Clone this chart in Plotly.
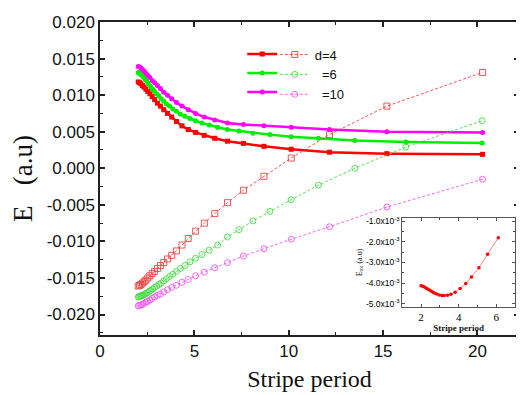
import plotly.graph_objects as go

# ---------------- data ----------------
# stripe periods used for d=4 and d=10 series
x_a = [2.027, 2.097, 2.171, 2.252, 2.338, 2.432, 2.533, 2.643, 2.764, 2.895,
       3.04, 3.2, 3.378, 3.576, 3.8, 4.053, 4.343, 4.677, 5.067, 5.527,
       6.08, 6.756, 7.6, 8.686, 10.133, 12.16, 15.2, 20.27]
# stripe periods used for d=6 series
x_b = [2.025, 2.077, 2.132, 2.189, 2.25, 2.314, 2.382, 2.455, 2.531, 2.613,
       2.7, 2.793, 2.893, 3.0, 3.115, 3.24, 3.375, 3.522, 3.682, 3.857,
       4.05, 4.263, 4.5, 4.765, 5.063, 5.4, 5.786, 6.231, 6.75, 7.364,
       8.1, 9.0, 10.125, 11.571, 13.5, 16.2, 20.25]

d4_solid = [0.0118, 0.0117, 0.01155, 0.0113, 0.0111, 0.0108, 0.0105, 0.0102, 0.0098, 0.0094,
            0.0089, 0.0085, 0.0080, 0.0075, 0.0070, 0.0064, 0.0058, 0.0053, 0.0049, 0.0045,
            0.0041, 0.0037, 0.0034, 0.0030, 0.0026, 0.0022, 0.0020, 0.0019]
d4_dash = [-0.0161, -0.0160, -0.0159, -0.0157, -0.0155, -0.0153, -0.0150, -0.0147, -0.0144, -0.0141,
           -0.0137, -0.0133, -0.0129, -0.0124, -0.0119, -0.0113, -0.0105, -0.0096, -0.0086, -0.0075,
           -0.0062, -0.0047, -0.0030, -0.0011, 0.0014, 0.0046, 0.0085, 0.0131]
d10_solid = [0.0139, 0.01385, 0.0137, 0.0135, 0.0133, 0.0130, 0.0127, 0.0124, 0.0120, 0.0117,
             0.0113, 0.0109, 0.0104, 0.0100, 0.0095, 0.0090, 0.0085, 0.0080, 0.0075, 0.0070,
             0.0066, 0.0062, 0.0060, 0.0058, 0.0056, 0.0053, 0.0050, 0.0049]
d10_dash = [-0.0188, -0.01875, -0.0187, -0.0186, -0.0185, -0.0183, -0.0182, -0.0180, -0.0178, -0.0176,
            -0.0174, -0.0172, -0.0169, -0.0166, -0.0163, -0.0160, -0.0156, -0.0152, -0.0147, -0.0142,
            -0.0136, -0.0129, -0.0120, -0.0110, -0.0097, -0.0080, -0.0053, -0.0015]
d6_solid = [0.0131, 0.01305, 0.0129, 0.0128, 0.0126, 0.0124, 0.0122, 0.0120, 0.0117, 0.0114,
            0.0111, 0.0108, 0.0105, 0.0102, 0.0099, 0.0095, 0.0092, 0.0088, 0.0085, 0.0081,
            0.0078, 0.0074, 0.0071, 0.0068, 0.0065, 0.0062, 0.0059, 0.0056, 0.0053, 0.0051,
            0.0048, 0.0046, 0.0043, 0.0041, 0.0038, 0.0036, 0.00345]
d6_dash = [-0.0176, -0.01755, -0.0175, -0.01745, -0.0174, -0.0173, -0.0172, -0.0171, -0.0170, -0.0168,
           -0.0167, -0.0165, -0.0163, -0.0161, -0.0159, -0.0157, -0.0154, -0.0151, -0.0148, -0.0145,
           -0.0141, -0.0137, -0.0133, -0.0128, -0.0123, -0.0118, -0.0112, -0.0105, -0.0094, -0.0084,
           -0.0072, -0.0059, -0.0043, -0.0023, 0.0000, 0.0029, 0.0065]

# inset: total energy vs stripe period
inset_x = [2.0, 2.09, 2.18, 2.26, 2.35, 2.44, 2.53, 2.62, 2.70, 2.83, 2.97, 3.11,
           3.23, 3.41, 3.59, 3.81, 4.08, 4.38, 4.68, 5.08, 5.54, 6.11]
inset_y = [-4.12e-3, -4.15e-3, -4.18e-3, -4.23e-3, -4.28e-3, -4.33e-3, -4.38e-3, -4.42e-3,
           -4.47e-3, -4.52e-3, -4.57e-3, -4.60e-3, -4.60e-3, -4.58e-3, -4.53e-3, -4.44e-3,
           -4.26e-3, -4.02e-3, -3.70e-3, -3.25e-3, -2.60e-3, -1.80e-3]

legend_names = ["d=4", "\u00a0\u00a0=6", "\u00a0\u00a0=10"]
y_tickvals = [-0.020, -0.015, -0.010, -0.005, 0.0, 0.005, 0.010, 0.015, 0.020]
y_ticktext = ["-0.020", "-0.015", "-0.010", "-0.005", "0.000", "0.005", "0.010", "0.015", "0.020"]
x_tickvals = [0, 5, 10, 15, 20]
inset_yvals = [-5e-3, -4e-3, -3e-3, -2e-3, -1e-3]
inset_ytext = ["-5.0x10<sup>-3</sup>", "-4.0x10<sup>-3</sup>", "-3.0x10<sup>-3</sup>",
               "-2.0x10<sup>-3</sup>", "-1.0x10<sup>-3</sup>"]

RED, GREEN, MAG = "#ff0000", "#00ee00", "#ff00ff"
RED_L, GREEN_L, MAG_L = "rgba(235,60,60,0.85)", "rgba(60,220,60,0.85)", "rgba(240,80,240,0.85)"

fig = go.Figure()

series = [
    (x_a, d4_solid, d4_dash, RED, RED_L, "square", "square-open", legend_names[0]),
    (x_b, d6_solid, d6_dash, GREEN, GREEN_L, "circle", "circle-open", legend_names[1]),
    (x_a, d10_solid, d10_dash, MAG, MAG_L, "circle", "circle-open", legend_names[2]),
]
for xs, ys, yd, c, cl, ms, mo, nm in series:
    fig.add_trace(go.Scatter(x=xs, y=ys, mode="lines+markers", name="",
                             line=dict(color=c, width=2.5),
                             marker=dict(symbol=ms, size=5, color=c),
                             legend="legend"))
for xs, ys, yd, c, cl, ms, mo, nm in series:
    fig.add_trace(go.Scatter(x=xs, y=yd, mode="lines+markers", name=nm,
                             line=dict(color=cl, width=1, dash="3px,2px"),
                             marker=dict(symbol=mo, size=6, color=cl, line=dict(width=1)),
                             legend="legend2"))

fig.add_trace(go.Scatter(x=inset_x, y=inset_y, mode="lines+markers", xaxis="x2", yaxis="y2",
                         line=dict(color="rgba(255,60,60,0.8)", width=0.8),
                         marker=dict(size=3.5, color=RED), showlegend=False))

axis_common = dict(showline=True, linecolor="#222", linewidth=1.5, mirror="ticks",
                   ticks="inside", ticklen=5, tickwidth=1.5, tickcolor="#222",
                   showgrid=False, zeroline=False)

SERIF = "Liberation Serif, Times New Roman, serif"
SANS = "Liberation Sans, Arial, sans-serif"

fig.update_layout(
    width=516, height=387,
    margin=dict(l=92, r=3, t=14, b=60),
    paper_bgcolor="white", plot_bgcolor="white",
    font=dict(family=SANS, color="#111"),
    xaxis=dict(range=[0, 22.2], tickvals=x_tickvals, tickfont=dict(size=17),
               minor=dict(dtick=2.5, ticks="inside", ticklen=3, tickcolor="#222", tickwidth=1.2),
               title=dict(text="Stripe period", font=dict(family=SERIF, size=24), standoff=10),
               **axis_common),
    yaxis=dict(range=[-0.0228, 0.020], tickvals=y_tickvals, ticktext=y_ticktext, tickfont=dict(size=17),
               minor=dict(dtick=0.0025, ticks="inside", ticklen=3, tickcolor="#222", tickwidth=1.2),
               title=dict(text="E\u00a0\u00a0\u00a0(a.u)", font=dict(family=SERIF, size=27), standoff=9),
               **axis_common),
    xaxis2=dict(domain=[0.7214, 0.9905], anchor="y2", range=[1, 7], tickvals=[2, 4, 6],
                tickfont=dict(family=SERIF, size=11, color="#000"),
                minor=dict(dtick=1, ticks="inside", ticklen=2, tickcolor="#444"),
                title=dict(text="<b>Stripe period</b>", font=dict(family=SERIF, size=9), standoff=0),
                showline=True, linecolor="#555", linewidth=1, mirror="ticks", ticks="inside",
                ticklen=3, tickcolor="#555", showgrid=False, zeroline=False),
    yaxis2=dict(domain=[0.0895, 0.3738], anchor="x2", range=[-5.15e-3, -0.85e-3],
                tickvals=inset_yvals, ticktext=inset_ytext,
                tickfont=dict(family=SANS, size=8.5, color="#000"),
                minor=dict(tickvals=[-4.5e-3, -3.5e-3, -2.5e-3, -1.5e-3], ticks="inside", ticklen=2, tickcolor="#444"),
                title=dict(text="E<sub>tot</sub> (a.u)", font=dict(family=SERIF, size=8), standoff=2),
                showline=True, linecolor="#555", linewidth=1, mirror="ticks", ticks="inside",
                ticklen=3, tickcolor="#555", showgrid=False, zeroline=False),
    legend=dict(x=0.3395, y=0.944, xanchor="left", yanchor="top", bgcolor="rgba(0,0,0,0)",
                font=dict(size=12), itemwidth=30, tracegroupgap=0),
    legend2=dict(x=0.417, y=0.944, xanchor="left", yanchor="top", bgcolor="rgba(0,0,0,0)",
                 font=dict(size=13), itemwidth=30, tracegroupgap=0),
)

fig.write_html("out.html")
